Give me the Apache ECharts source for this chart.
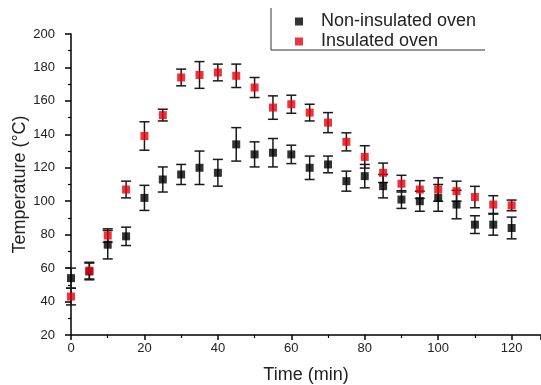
<!DOCTYPE html>
<html>
<head>
<meta charset="utf-8">
<script src="https://cdn.jsdelivr.net/npm/echarts@6/dist/echarts.min.js"></script>
<style>
  html, body { margin: 0; padding: 0; background: #fff; }
  #chart { width: 541px; height: 385px; }
</style>
</head>
<body>
<div id="chart"></div>
<script>
// time in minutes
const times = [0, 5, 10, 15, 20, 25, 30, 35, 40, 45, 50, 55, 60, 65, 70, 75, 80, 85, 90, 95, 100, 105, 110, 115, 120];

const nonInsulated = [54, 58, 74, 79, 102, 113, 116, 120, 117, 134, 128, 129, 128, 120, 122, 112, 115, 109, 101, 100, 102, 98, 86, 86, 84];
const nonInsulatedErr = [6, 5, 8.5, 5.5, 7.5, 7.5, 6, 10, 8, 10, 7.5, 8.5, 5.5, 7, 5, 6, 7, 7, 5.3, 6, 8, 8.5, 5.3, 6.3, 6.5];

const insulated = [43, 58.5, 79.5, 107, 139, 151.5, 174, 175.5, 177, 175, 168, 156, 158, 153, 147, 135.5, 126.5, 117, 110.5, 107, 107, 106, 102.5, 98, 97.5];
const insulatedErr = [5, 5, 4, 5, 8.5, 3.5, 5, 8, 5, 7, 6, 7, 5.4, 5, 6, 5.4, 6.7, 5.8, 5, 5.3, 7, 6, 6.4, 5.3, 3.2];

const seriesNames = ['Non-insulated oven', 'Insulated oven'];
const colors = ['#000000', '#e8000b'];

const pairs = (vals) => times.map((t, i) => [t, vals[i]]);
const errRows = (vals, errs) => times.map((t, i) => [t, vals[i] - errs[i], vals[i] + errs[i]]);

function renderErr(params, api) {
    const x = api.value(0);
    const lo = api.coord([x, api.value(1)]);
    const hi = api.coord([x, api.value(2)]);
    const w = 5;
    const style = { stroke: '#1a1a1a', lineWidth: 1.5 };
    return {
        type: 'group',
        children: [
            { type: 'line', shape: { x1: lo[0], y1: lo[1], x2: hi[0], y2: hi[1] }, style: style },
            { type: 'line', shape: { x1: lo[0] - w, y1: lo[1], x2: lo[0] + w, y2: lo[1] }, style: style },
            { type: 'line', shape: { x1: hi[0] - w, y1: hi[1], x2: hi[0] + w, y2: hi[1] }, style: style }
        ]
    };
}

let myChart = echarts.init(document.getElementById('chart'));
let font = 'Liberation Sans, Arial';
let option = {
    animation: false,
    backgroundColor: '#fff',
    grid: { left: 71, right: 0, top: 34, bottom: 50, containLabel: false, outerBoundsMode: 'none' },
    legend: {
        orient: 'vertical',
        left: 290,
        top: 7,
        itemWidth: 8,
        itemHeight: 8,
        itemGap: 1,
        data: seriesNames.map((n) => ({ name: n, icon: 'rect' })),
        textStyle: { color: '#222', fontFamily: font, fontSize: 18, lineHeight: 19, padding: [0, 0, 0, 13] }
    },
    graphic: [{
        type: 'polyline',
        shape: { points: [[271, 8], [271, 50], [485, 50]] },
        style: { stroke: '#333', lineWidth: 1, fill: null }
    }],
    xAxis: {
        type: 'value',
        min: 0,
        max: 128,
        interval: 20,
        name: 'Time (min)',
        nameLocation: 'middle',
        nameGap: 31,
        nameMoveOverlap: false,
        nameTextStyle: { color: '#222', fontFamily: font, fontSize: 18 },
        splitLine: { show: false },
        axisLine: { onZero: false, lineStyle: { color: '#000', width: 1.5 } },
        axisTick: { length: 5, lineStyle: { color: '#000', width: 1.5 } },
        minorTick: { show: true, splitNumber: 2, length: 3, lineStyle: { color: '#000', width: 1.2 } },
        axisLabel: { color: '#222', fontFamily: font, fontSize: 13, margin: 7, formatter: (v) => (v % 20 === 0 ? v : '') }
    },
    yAxis: {
        type: 'value',
        min: 20,
        max: 200,
        interval: 20,
        name: 'Temperature (°C)',
        nameLocation: 'middle',
        nameGap: 42,
        nameMoveOverlap: false,
        nameTextStyle: { color: '#222', fontFamily: font, fontSize: 18 },
        splitLine: { show: false },
        axisLine: { show: true, onZero: false, lineStyle: { color: '#000', width: 1.5 } },
        axisTick: { show: true, length: 6, lineStyle: { color: '#000', width: 1.5 } },
        minorTick: { show: true, splitNumber: 2, length: 3, lineStyle: { color: '#000', width: 1.2 } },
        axisLabel: { color: '#222', fontFamily: font, fontSize: 13, margin: 16 }
    },
    series: [
        {
            name: seriesNames[0] + ' err',
            type: 'custom',
            renderItem: renderErr,
            data: errRows(nonInsulated, nonInsulatedErr),
            encode: { x: 0, y: [1, 2] },
            z: 2
        },
        {
            name: seriesNames[1] + ' err',
            type: 'custom',
            renderItem: renderErr,
            data: errRows(insulated, insulatedErr),
            encode: { x: 0, y: [1, 2] },
            z: 2
        },
        {
            name: seriesNames[0],
            type: 'scatter',
            symbol: 'rect',
            symbolSize: 8,
            itemStyle: { color: colors[0] },
            data: pairs(nonInsulated),
            z: 3
        },
        {
            name: seriesNames[1],
            type: 'scatter',
            symbol: 'rect',
            symbolSize: 8,
            itemStyle: { color: colors[1] },
            data: pairs(insulated),
            z: 4
        }
    ]
};
myChart.setOption(option);
</script>
</body>
</html>
